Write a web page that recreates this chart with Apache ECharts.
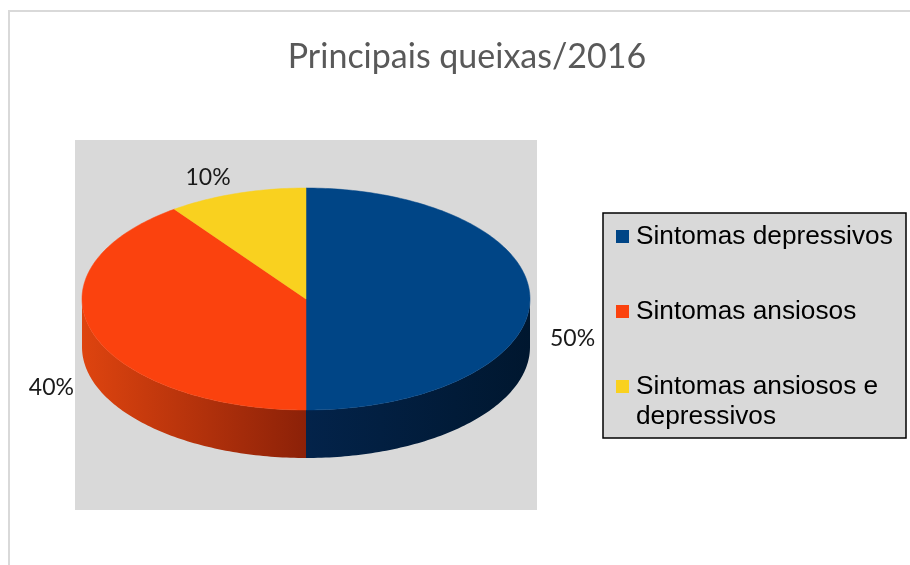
<!DOCTYPE html>
<html>
<head>
<meta charset="utf-8">
<title>Principais queixas/2016</title>
<script src="https://cdn.jsdelivr.net/npm/echarts@6/dist/echarts.min.js"></script>
<style>
  html, body { margin: 0; padding: 0; background: #fff; }
  #main { width: 910px; height: 565px; }
</style>
</head>
<body>
<div id="main"></div>
<script>
// data
const categories = ['Sintomas depressivos', 'Sintomas ansiosos', 'Sintomas ansiosos e depressivos'];
const legendLines = [['Sintomas depressivos'], ['Sintomas ansiosos'], ['Sintomas ansiosos e', 'depressivos']];
const values = [50, 40, 10];
const pctLabels = ['50%', '40%', '10%'];

// styles
const topColors = ['#004586', '#fb420e', '#f9d11f'];
const sideColors = [['#03234a', '#00172f'], ['#de440f', '#8c2108'], ['#d6aa10', '#9a7a0a']];

// pie geometry, px
const cx = 306, cy = 299, rx = 224, ry = 111, depth = 48;
const labelRx = 244, labelRy = 158, labelDy = 40;

const total = values.reduce((a, b) => a + b, 0);
const startAngles = [];
let acc = 0;
for (let i = 0; i < values.length; i++) {
  startAngles.push(90 - 360 * acc / total);
  acc += values[i];
}

function pt(deg, dy) {
  const r = deg * Math.PI / 180;
  return [cx + rx * Math.cos(r), cy - ry * Math.sin(r) + (dy || 0)];
}

function arcPoints(from, to, dy) {
  const pts = [];
  const n = Math.max(2, Math.ceil(Math.abs(to - from)));
  for (let k = 0; k <= n; k++) {
    pts.push(pt(from + (to - from) * k / n, dy));
  }
  return pts;
}

function renderSlice(params, api) {
  const i = params.dataIndex;
  const a0 = startAngles[i];
  const a1 = a0 - 360 * api.value(0) / total;
  const children = [];

  // front wall, only the part facing the viewer
  const lo = Math.max(a1, -180);
  const hi = Math.min(a0, 0);
  if (hi > lo) {
    const pts = arcPoints(lo, hi, 0).concat(arcPoints(hi, lo, depth));
    children.push({
      type: 'polygon',
      z2: 1,
      shape: { points: pts },
      style: {
        fill: new echarts.graphic.LinearGradient(0, 0, 1, 0, [
          { offset: 0, color: sideColors[i][0] },
          { offset: 1, color: sideColors[i][1] }
        ])
      }
    });
  }

  // top face
  children.push({
    type: 'polygon',
    z2: 10,
    shape: { points: [[cx, cy]].concat(arcPoints(a0, a1, 0)) },
    style: { fill: topColors[i], stroke: topColors[i], lineWidth: 0.5 }
  });

  // percentage label
  const m = (a0 + a1) / 2 * Math.PI / 180;
  const c = Math.cos(m), s = Math.sin(m);
  children.push({
    type: 'text',
    z2: 20,
    x: cx + labelRx * c,
    y: cy + labelDy - labelRy * s,
    style: {
      text: pctLabels[i],
      fill: '#1a1a1a',
      font: '23px Lato',
      align: c > 0.35 ? 'left' : (c < -0.2 ? 'right' : 'center'),
      verticalAlign: s > 0.5 ? 'bottom' : (s < -0.5 ? 'top' : 'middle')
    }
  });

  return { type: 'group', children: children };
}

// legend drawn by hand so the wrapped item keeps its marker on the first line
const legendRowY = [237, 312, 387];
const legendEls = [{
  type: 'rect',
  shape: { x: 603, y: 213, width: 303, height: 225 },
  style: { fill: '#d9d9d9', stroke: '#000', lineWidth: 1.5 }
}];
legendLines.forEach((lines, i) => {
  legendEls.push({
    type: 'rect',
    shape: { x: 616, y: legendRowY[i] - 7, width: 13, height: 13 },
    style: { fill: topColors[i] }
  });
  lines.forEach((t, j) => {
    legendEls.push({
      type: 'text',
      x: 636,
      y: legendRowY[i] + j * 30,
      scaleX: 1.05,
      style: { text: t, fill: '#000', font: '25px "Liberation Sans", Arial', verticalAlign: 'middle' }
    });
  });
});

const chart = echarts.init(document.getElementById('main'));
chart.setOption({
  animation: false,
  title: {
    text: 'Principais queixas/2016',
    left: 462,
    top: 35,
    textAlign: 'center',
    textStyle: { color: '#595959', fontFamily: 'Lato', fontSize: 34, fontWeight: 'normal' }
  },
  graphic: [
    {
      type: 'rect', z: -10,
      shape: { x: 9, y: 11, width: 940, height: 600 },
      style: { fill: '#fff', stroke: '#d9d9d9', lineWidth: 2 }
    },
    {
      type: 'rect', z: -9,
      shape: { x: 75, y: 140, width: 462, height: 370 },
      style: { fill: '#d9d9d9' }
    },
    { type: 'group', children: legendEls }
  ],
  series: [{
    type: 'custom',
    name: 'Principais queixas',
    coordinateSystem: 'none',
    data: values.map((v, i) => ({ name: categories[i], value: [v] })),
    renderItem: renderSlice
  }]
});
</script>
</body>
</html>
